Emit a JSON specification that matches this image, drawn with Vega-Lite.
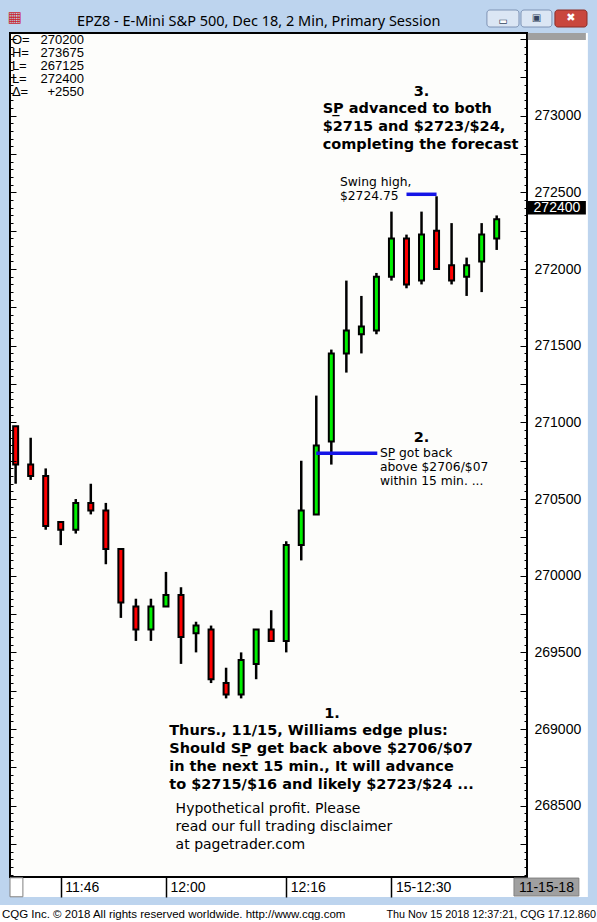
{
  "$schema": "https://vega.github.io/schema/vega-lite/v6.json",
  "width": 517,
  "height": 844,
  "autosize": {"type": "none"},
  "padding": {"left": 10, "top": 33, "right": 70, "bottom": 45},
  "background": "#bdd4ee",
  "config": {"view": {"stroke": null, "fill": null}, "font": "DejaVu Sans"},
  "title": {
    "text": "EPZ8 - E-Mini S&P 500, Dec 18, 2 Min, Primary Session",
    "anchor": "start", "frame": "group", "dx": 67, "offset": -31,
    "baseline": "alphabetic", "font": "Noto Sans", "fontSize": 14.5,
    "fontWeight": "normal", "color": "#000000"
  },
  "datasets": {
    "candles": [
      {"t": "2018-11-15T11:40:00", "o": 270975, "h": 270975, "l": 270600, "c": 270725},
      {"t": "2018-11-15T11:42:00", "o": 270725, "h": 270900, "l": 270625, "c": 270650},
      {"t": "2018-11-15T11:44:00", "o": 270650, "h": 270700, "l": 270300, "c": 270325},
      {"t": "2018-11-15T11:46:00", "o": 270350, "h": 270350, "l": 270200, "c": 270300},
      {"t": "2018-11-15T11:48:00", "o": 270300, "h": 270500, "l": 270275, "c": 270475},
      {"t": "2018-11-15T11:50:00", "o": 270475, "h": 270600, "l": 270400, "c": 270425},
      {"t": "2018-11-15T11:52:00", "o": 270425, "h": 270475, "l": 270075, "c": 270175},
      {"t": "2018-11-15T11:54:00", "o": 270175, "h": 270175, "l": 269725, "c": 269825},
      {"t": "2018-11-15T11:56:00", "o": 269800, "h": 269850, "l": 269575, "c": 269650},
      {"t": "2018-11-15T11:58:00", "o": 269650, "h": 269850, "l": 269575, "c": 269800},
      {"t": "2018-11-15T12:00:00", "o": 269800, "h": 270025, "l": 269800, "c": 269875},
      {"t": "2018-11-15T12:02:00", "o": 269875, "h": 269925, "l": 269425, "c": 269600},
      {"t": "2018-11-15T12:04:00", "o": 269625, "h": 269700, "l": 269500, "c": 269675},
      {"t": "2018-11-15T12:06:00", "o": 269650, "h": 269675, "l": 269300, "c": 269325},
      {"t": "2018-11-15T12:08:00", "o": 269300, "h": 269400, "l": 269200, "c": 269225},
      {"t": "2018-11-15T12:10:00", "o": 269225, "h": 269500, "l": 269200, "c": 269450},
      {"t": "2018-11-15T12:12:00", "o": 269425, "h": 269650, "l": 269325, "c": 269650},
      {"t": "2018-11-15T12:14:00", "o": 269650, "h": 269775, "l": 269575, "c": 269575},
      {"t": "2018-11-15T12:16:00", "o": 269575, "h": 270225, "l": 269500, "c": 270200},
      {"t": "2018-11-15T12:18:00", "o": 270200, "h": 270750, "l": 270100, "c": 270425},
      {"t": "2018-11-15T12:20:00", "o": 270400, "h": 271175, "l": 270400, "c": 270850},
      {"t": "2018-11-15T12:22:00", "o": 270875, "h": 271475, "l": 270725, "c": 271450},
      {"t": "2018-11-15T12:24:00", "o": 271450, "h": 271925, "l": 271325, "c": 271600},
      {"t": "2018-11-15T12:26:00", "o": 271575, "h": 271825, "l": 271450, "c": 271625},
      {"t": "2018-11-15T12:28:00", "o": 271600, "h": 271975, "l": 271575, "c": 271950},
      {"t": "2018-11-15T12:30:00", "o": 271950, "h": 272375, "l": 271925, "c": 272200},
      {"t": "2018-11-15T12:32:00", "o": 272200, "h": 272225, "l": 271875, "c": 271900},
      {"t": "2018-11-15T12:34:00", "o": 271925, "h": 272375, "l": 271900, "c": 272225},
      {"t": "2018-11-15T12:36:00", "o": 272250, "h": 272475, "l": 272000, "c": 272000},
      {"t": "2018-11-15T12:38:00", "o": 272025, "h": 272300, "l": 271900, "c": 271925},
      {"t": "2018-11-15T12:40:00", "o": 271950, "h": 272075, "l": 271825, "c": 272025},
      {"t": "2018-11-15T12:42:00", "o": 272050, "h": 272300, "l": 271850, "c": 272225},
      {"t": "2018-11-15T12:44:00", "o": 272200, "h": 272350, "l": 272125, "c": 272325}
    ]
  },
  "resolve": {"axis": {"x": "independent", "y": "independent"}},
  "layer": [
    {
      "data": {"values": [{}]},
      "mark": {"type": "rect", "fill": "#ffffff"},
      "encoding": {
        "x": {"datum": {"year": 2018, "month": 11, "date": 15, "hours": 11, "minutes": 39, "seconds": 15}, "type": "temporal", "axis": null},
        "x2": {"datum": {"year": 2018, "month": 11, "date": 15, "hours": 12, "minutes": 56, "seconds": 8}},
        "y": {"datum": 273540, "type": "quantitative", "axis": null},
        "y2": {"datum": 267904}
      }
    },
    {
      "data": {"values": [{}]},
      "mark": {"type": "rect", "fill": "#ffffff"},
      "encoding": {
        "x": {"datum": {"year": 2018, "month": 11, "date": 15, "hours": 11, "minutes": 37, "seconds": 54}, "type": "temporal", "axis": null},
        "x2": {"datum": {"year": 2018, "month": 11, "date": 15, "hours": 12, "minutes": 57, "seconds": 20}},
        "y": {"datum": 267852, "type": "quantitative", "axis": null},
        "y2": {"datum": 267742}
      }
    },
    {
      "data": {"values": [{}]},
      "mark": {"type": "rect", "fill": "#fdfdfb", "stroke": "#000000", "strokeWidth": 2},
      "encoding": {
        "x": {"datum": {"year": 2018, "month": 11, "date": 15, "hours": 11, "minutes": 39, "seconds": 15}, "type": "temporal", "axis": null},
        "x2": {"datum": {"year": 2018, "month": 11, "date": 15, "hours": 12, "minutes": 48, "seconds": 2}},
        "y": {"datum": 273540, "type": "quantitative", "axis": null},
        "y2": {"datum": 268035}
      }
    },
    {
      "data": {"values": [{}]},
      "mark": {"type": "rect", "fill": "#ffffff", "stroke": "#808080", "strokeWidth": 1},
      "encoding": {
        "x": {"datum": {"year": 2018, "month": 11, "date": 15, "hours": 11, "minutes": 39, "seconds": 15}, "type": "temporal", "axis": null},
        "x2": {"datum": {"year": 2018, "month": 11, "date": 15, "hours": 11, "minutes": 40, "seconds": 58}},
        "y": {"datum": 268030, "type": "quantitative", "axis": null},
        "y2": {"datum": 267906}
      }
    },
    {
      "data": {"values": [{}]},
      "mark": {"type": "rect", "fill": "#a0a0a0", "stroke": "#808080", "strokeWidth": 1},
      "encoding": {
        "x": {"datum": {"year": 2018, "month": 11, "date": 15, "hours": 12, "minutes": 46, "seconds": 18}, "type": "temporal", "axis": null},
        "x2": {"datum": {"year": 2018, "month": 11, "date": 15, "hours": 12, "minutes": 54, "seconds": 56}},
        "y": {"datum": 268028, "type": "quantitative", "axis": null},
        "y2": {"datum": 267911}
      }
    },
    {
      "data": {"values": [{}]},
      "mark": {"type": "text", "text": "11-15-18", "font": "Liberation Sans", "fontSize": 14, "align": "center", "baseline": "alphabetic", "color": "#000000"},
      "encoding": {
        "x": {"datum": {"year": 2018, "month": 11, "date": 15, "hours": 12, "minutes": 50, "seconds": 37}, "type": "temporal", "axis": null},
        "y": {"datum": 267935, "type": "quantitative", "axis": null}
      }
    },
    {
      "data": {"values": [{}]},
      "mark": {"type": "rect", "fill": "#a0a0a0"},
      "encoding": {
        "x": {"datum": {"year": 2018, "month": 11, "date": 15, "hours": 12, "minutes": 48, "seconds": 9}, "type": "temporal", "axis": null},
        "x2": {"datum": {"year": 2018, "month": 11, "date": 15, "hours": 12, "minutes": 55, "seconds": 52}},
        "y": {"datum": 273540, "type": "quantitative", "axis": null},
        "y2": {"datum": 273494}
      }
    },
    {
      "data": {"values": [{}]},
      "mark": {"type": "rect", "fill": "#000000"},
      "encoding": {
        "x": {"datum": {"year": 2018, "month": 11, "date": 15, "hours": 12, "minutes": 48, "seconds": 9}, "type": "temporal", "axis": null},
        "x2": {"datum": {"year": 2018, "month": 11, "date": 15, "hours": 12, "minutes": 55, "seconds": 52}},
        "y": {"datum": 272444, "type": "quantitative", "axis": null},
        "y2": {"datum": 272356}
      }
    },
    {
      "data": {"values": [{}]},
      "mark": {"type": "text", "text": "272400", "font": "Liberation Sans", "fontSize": 14, "align": "center", "baseline": "middle", "color": "#ffffff"},
      "encoding": {
        "x": {"datum": {"year": 2018, "month": 11, "date": 15, "hours": 12, "minutes": 52, "seconds": 1}, "type": "temporal", "axis": null},
        "y": {"datum": 272400, "type": "quantitative", "axis": null}
      }
    },
    {
      "data": {"values": [{}]},
      "mark": {"type": "text", "text": "▦", "fontSize": 15, "align": "center", "baseline": "middle", "fill": "#c8262c"},
      "encoding": {
        "x": {"datum": {"year": 2018, "month": 11, "date": 15, "hours": 11, "minutes": 39, "seconds": 54}, "type": "temporal", "axis": null},
        "y": {"datum": 273644, "type": "quantitative", "axis": null}
      }
    },
    {
      "data": {"values": [{}]},
      "mark": {"type": "rect", "fill": "#dbe6f4", "stroke": "#7f94b5", "cornerRadius": 3},
      "encoding": {
        "x": {"datum": {"year": 2018, "month": 11, "date": 15, "hours": 12, "minutes": 42, "seconds": 42}, "type": "temporal", "axis": null},
        "x2": {"datum": {"year": 2018, "month": 11, "date": 15, "hours": 12, "minutes": 46, "seconds": 58}},
        "y": {"datum": 273690, "type": "quantitative", "axis": null},
        "y2": {"datum": 273579}
      }
    },
    {
      "data": {"values": [{}]},
      "mark": {"type": "rect", "fill": "#dbe6f4", "stroke": "#7f94b5", "cornerRadius": 3},
      "encoding": {
        "x": {"datum": {"year": 2018, "month": 11, "date": 15, "hours": 12, "minutes": 47, "seconds": 14}, "type": "temporal", "axis": null},
        "x2": {"datum": {"year": 2018, "month": 11, "date": 15, "hours": 12, "minutes": 51, "seconds": 21}},
        "y": {"datum": 273690, "type": "quantitative", "axis": null},
        "y2": {"datum": 273579}
      }
    },
    {
      "data": {"values": [{}]},
      "mark": {"type": "rect", "fill": "#c9473d", "stroke": "#8a2e28", "cornerRadius": 3},
      "encoding": {
        "x": {"datum": {"year": 2018, "month": 11, "date": 15, "hours": 12, "minutes": 51, "seconds": 45}, "type": "temporal", "axis": null},
        "x2": {"datum": {"year": 2018, "month": 11, "date": 15, "hours": 12, "minutes": 56, "seconds": 1}},
        "y": {"datum": 273690, "type": "quantitative", "axis": null},
        "y2": {"datum": 273579}
      }
    },
    {
      "data": {"values": [{}]},
      "mark": {"type": "text", "text": "▬", "fontSize": 9, "align": "center", "baseline": "middle", "fill": "#ffffff", "stroke": "#33445e", "strokeWidth": 0.6},
      "encoding": {
        "x": {"datum": {"year": 2018, "month": 11, "date": 15, "hours": 12, "minutes": 44, "seconds": 50}, "type": "temporal", "axis": null},
        "y": {"datum": 273618, "type": "quantitative", "axis": null}
      }
    },
    {
      "data": {"values": [{}]},
      "mark": {"type": "text", "text": "▣", "fontSize": 10, "align": "center", "baseline": "middle", "fill": "#33445e"},
      "encoding": {
        "x": {"datum": {"year": 2018, "month": 11, "date": 15, "hours": 12, "minutes": 49, "seconds": 17}, "type": "temporal", "axis": null},
        "y": {"datum": 273638, "type": "quantitative", "axis": null}
      }
    },
    {
      "data": {"values": [{}]},
      "mark": {"type": "text", "text": "✖", "fontSize": 11, "align": "center", "baseline": "middle", "fill": "#ffffff"},
      "encoding": {
        "x": {"datum": {"year": 2018, "month": 11, "date": 15, "hours": 12, "minutes": 53, "seconds": 53}, "type": "temporal", "axis": null},
        "y": {"datum": 273638, "type": "quantitative", "axis": null}
      }
    },
    {
      "data": {"name": "candles"},
      "mark": {"type": "rule", "color": "#000000", "strokeWidth": 2.5},
      "encoding": {
        "x": {
          "field": "t", "type": "temporal",
          "scale": {"domain": [{"year": 2018, "month": 11, "date": 15, "hours": 11, "minutes": 39, "seconds": 15}, {"year": 2018, "month": 11, "date": 15, "hours": 12, "minutes": 48, "seconds": 2}], "nice": false, "padding": 0},
          "axis": {
            "orient": "bottom", "title": null, "domain": false, "grid": false,
            "values": {"expr": "[datetime(2018,10,15,11,46,0,0), datetime(2018,10,15,12,0,0,0), datetime(2018,10,15,12,16,0,0), datetime(2018,10,15,12,30,0,0)]"},
            "format": "%H:%M",
            "labelExpr": "datum.label == '12:30' ? '15-12:30' : datum.label",
            "tickSize": 20, "tickColor": "#000000", "tickWidth": 1.5,
            "labelAlign": "left", "labelBaseline": "middle", "labelPadding": -10, "labelOffset": 4,
            "labelFont": "Liberation Sans", "labelFontSize": 14, "labelColor": "#000000",
            "labelFlush": false, "labelOverlap": false, "labelBound": false, "zindex": 1
          }
        },
        "y": {
          "field": "l", "type": "quantitative",
          "scale": {"domain": [268035, 273540], "nice": false, "zero": false, "padding": 0},
          "axis": {
            "orient": "right", "title": null, "domain": false, "grid": false,
            "values": [268050,268100,268150,268200,268250,268300,268350,268400,268450,268500,268550,268600,268650,268700,268750,268800,268850,268900,268950,269000,269050,269100,269150,269200,269250,269300,269350,269400,269450,269500,269550,269600,269650,269700,269750,269800,269850,269900,269950,270000,270050,270100,270150,270200,270250,270300,270350,270400,270450,270500,270550,270600,270650,270700,270750,270800,270850,270900,270950,271000,271050,271100,271150,271200,271250,271300,271350,271400,271450,271500,271550,271600,271650,271700,271750,271800,271850,271900,271950,272000,272050,272100,272150,272200,272250,272300,272350,272400,272450,272500,272550,272600,272650,272700,272750,272800,272850,272900,272950,273000,273050,273100,273150,273200,273250,273300,273350,273400,273450,273500],
            "format": "d",
            "labelExpr": "datum.value % 500 === 0 && datum.value < 273500 ? datum.label : ''",
            "tickSize": {"condition": {"test": "datum.value % 250 === 0", "value": -7}, "value": -3},
            "tickColor": "#000000", "tickWidth": 1,
            "labelAlign": "left", "labelBaseline": "middle", "labelPadding": 14,
            "labelFont": "Liberation Sans", "labelFontSize": 14, "labelColor": "#000000",
            "labelFlush": false, "labelOverlap": false, "labelBound": false, "zindex": 1
          }
        },
        "y2": {"field": "h"}
      }
    },
    {
      "data": {"name": "candles"},
      "mark": {"type": "bar", "width": 5, "stroke": "#000000", "strokeWidth": 2},
      "encoding": {
        "x": {"field": "t", "type": "temporal", "axis": null},
        "y": {
          "field": "o", "type": "quantitative",
          "axis": {
            "orient": "left", "title": null, "domain": false, "grid": false, "labels": false,
            "values": [268050,268100,268150,268200,268250,268300,268350,268400,268450,268500,268550,268600,268650,268700,268750,268800,268850,268900,268950,269000,269050,269100,269150,269200,269250,269300,269350,269400,269450,269500,269550,269600,269650,269700,269750,269800,269850,269900,269950,270000,270050,270100,270150,270200,270250,270300,270350,270400,270450,270500,270550,270600,270650,270700,270750,270800,270850,270900,270950,271000,271050,271100,271150,271200,271250,271300,271350,271400,271450,271500,271550,271600,271650,271700,271750,271800,271850,271900,271950,272000,272050,272100,272150,272200,272250,272300,272350,272400,272450,272500,272550,272600,272650,272700,272750,272800,272850,272900,272950,273000,273050,273100,273150,273200,273250,273300,273350,273400,273450,273500],
            "tickSize": {"condition": {"test": "datum.value % 250 === 0", "value": -6}, "value": -3},
            "tickColor": "#000000", "tickWidth": 1, "zindex": 1
          }
        },
        "y2": {"field": "c"},
        "fill": {"condition": {"test": "datum.c >= datum.o", "value": "#00f000"}, "value": "#ff0000"}
      }
    },
    {
      "data": {"values": [{}]},
      "mark": {"type": "rule", "color": "#1414e6", "strokeWidth": 3.5},
      "encoding": {
        "x": {"datum": {"year": 2018, "month": 11, "date": 15, "hours": 12, "minutes": 32, "seconds": 0}, "type": "temporal", "axis": null},
        "x2": {"datum": {"year": 2018, "month": 11, "date": 15, "hours": 12, "minutes": 36, "seconds": 0}},
        "y": {"datum": 272488, "type": "quantitative", "axis": null}
      }
    },
    {
      "data": {"values": [{}]},
      "mark": {"type": "rule", "color": "#1414e6", "strokeWidth": 3.5},
      "encoding": {
        "x": {"datum": {"year": 2018, "month": 11, "date": 15, "hours": 12, "minutes": 20, "seconds": 0}, "type": "temporal", "axis": null},
        "x2": {"datum": {"year": 2018, "month": 11, "date": 15, "hours": 12, "minutes": 28, "seconds": 7}},
        "y": {"datum": 270799, "type": "quantitative", "axis": null}
      }
    },
    {
      "data": {"values": [{}]},
      "mark": {"type": "text", "text": "3.", "font": "DejaVu Sans", "fontWeight": "bold", "fontSize": 14.5, "align": "center", "baseline": "alphabetic", "color": "#000000"},
      "encoding": {
        "x": {"datum": {"year": 2018, "month": 11, "date": 15, "hours": 12, "minutes": 34, "seconds": 0}, "type": "temporal", "axis": null},
        "y": {"datum": 273129, "type": "quantitative", "axis": null}
      }
    },
    {
      "data": {"values": [{}]},
      "mark": {"type": "text", "text": ["SP\u0332 advanced to both", "$2715 and $2723/$24,", "completing the forecast"], "lineHeight": 18, "font": "DejaVu Sans", "fontWeight": "bold", "fontSize": 14.5, "align": "left", "baseline": "alphabetic", "color": "#000000"},
      "encoding": {
        "x": {"datum": {"year": 2018, "month": 11, "date": 15, "hours": 12, "minutes": 20, "seconds": 51}, "type": "temporal", "axis": null},
        "y": {"datum": 273020, "type": "quantitative", "axis": null}
      }
    },
    {
      "data": {"values": [{}]},
      "mark": {"type": "text", "text": ["Swing high,", "$2724.75"], "lineHeight": 14, "font": "DejaVu Sans", "fontSize": 12.3, "align": "left", "baseline": "alphabetic", "color": "#000000"},
      "encoding": {
        "x": {"datum": {"year": 2018, "month": 11, "date": 15, "hours": 12, "minutes": 23, "seconds": 9}, "type": "temporal", "axis": null},
        "y": {"datum": 272539, "type": "quantitative", "axis": null}
      }
    },
    {
      "data": {"values": [{}]},
      "mark": {"type": "text", "text": "2.", "font": "DejaVu Sans", "fontWeight": "bold", "fontSize": 14.5, "align": "center", "baseline": "alphabetic", "color": "#000000"},
      "encoding": {
        "x": {"datum": {"year": 2018, "month": 11, "date": 15, "hours": 12, "minutes": 34, "seconds": 0}, "type": "temporal", "axis": null},
        "y": {"datum": 270872, "type": "quantitative", "axis": null}
      }
    },
    {
      "data": {"values": [{}]},
      "mark": {"type": "text", "text": ["SP\u0332 got back", "above $2706/$07", "within 15 min. ..."], "lineHeight": 14, "font": "DejaVu Sans", "fontSize": 12.3, "align": "left", "baseline": "alphabetic", "color": "#000000"},
      "encoding": {
        "x": {"datum": {"year": 2018, "month": 11, "date": 15, "hours": 12, "minutes": 28, "seconds": 28}, "type": "temporal", "axis": null},
        "y": {"datum": 270774, "type": "quantitative", "axis": null}
      }
    },
    {
      "data": {"values": [{}]},
      "mark": {"type": "text", "text": "1.", "font": "DejaVu Sans", "fontWeight": "bold", "fontSize": 14.5, "align": "center", "baseline": "alphabetic", "color": "#000000"},
      "encoding": {
        "x": {"datum": {"year": 2018, "month": 11, "date": 15, "hours": 12, "minutes": 22, "seconds": 5}, "type": "temporal", "axis": null},
        "y": {"datum": 269072, "type": "quantitative", "axis": null}
      }
    },
    {
      "data": {"values": [{}]},
      "mark": {"type": "text", "text": ["Thurs., 11/15, Williams edge plus:", "Should SP\u0332 get back above $2706/$07", "in the next 15 min.,  It will advance", "to $2715/$16 and likely $2723/$24 ..."], "lineHeight": 18, "font": "DejaVu Sans", "fontWeight": "bold", "fontSize": 14.5, "align": "left", "baseline": "alphabetic", "color": "#000000"},
      "encoding": {
        "x": {"datum": {"year": 2018, "month": 11, "date": 15, "hours": 12, "minutes": 0, "seconds": 26}, "type": "temporal", "axis": null},
        "y": {"datum": 268961, "type": "quantitative", "axis": null}
      }
    },
    {
      "data": {"values": [{}]},
      "mark": {"type": "text", "text": ["Hypothetical profit. Please", "read our full trading disclaimer", "at pagetrader.com"], "lineHeight": 18, "font": "DejaVu Sans", "fontSize": 14, "align": "left", "baseline": "alphabetic", "color": "#000000"},
      "encoding": {
        "x": {"datum": {"year": 2018, "month": 11, "date": 15, "hours": 12, "minutes": 1, "seconds": 17}, "type": "temporal", "axis": null},
        "y": {"datum": 268452, "type": "quantitative", "axis": null}
      }
    },
    {
      "data": {"values": [{}]},
      "mark": {"type": "text", "text": ["O=", "H=", "L=", "L=", "Δ="], "lineHeight": 13, "font": "Liberation Sans", "fontSize": 13, "align": "left", "baseline": "alphabetic", "color": "#000000"},
      "encoding": {
        "x": {"datum": {"year": 2018, "month": 11, "date": 15, "hours": 11, "minutes": 39, "seconds": 30}, "type": "temporal", "axis": null},
        "y": {"datum": 273470, "type": "quantitative", "axis": null}
      }
    },
    {
      "data": {"values": [{}]},
      "mark": {"type": "text", "text": ["270200", "273675", "267125", "272400", "+2550"], "lineHeight": 13, "font": "Liberation Sans", "fontSize": 13, "align": "right", "baseline": "alphabetic", "color": "#000000"},
      "encoding": {
        "x": {"datum": {"year": 2018, "month": 11, "date": 15, "hours": 11, "minutes": 49, "seconds": 5}, "type": "temporal", "axis": null},
        "y": {"datum": 273470, "type": "quantitative", "axis": null}
      }
    },
    {
      "data": {"values": [{}]},
      "mark": {"type": "text", "text": "CQG Inc. © 2018 All rights reserved worldwide. http://www.cqg.com", "font": "Liberation Sans", "fontSize": 11.5, "align": "left", "baseline": "alphabetic", "color": "#000000"},
      "encoding": {
        "x": {"datum": {"year": 2018, "month": 11, "date": 15, "hours": 11, "minutes": 38, "seconds": 11}, "type": "temporal", "axis": null},
        "y": {"datum": 267768, "type": "quantitative", "axis": null}
      }
    },
    {
      "data": {"values": [{}]},
      "mark": {"type": "text", "text": "Thu Nov 15 2018 12:37:21, CQG 17.12.860", "font": "Liberation Sans", "fontSize": 10.8, "align": "right", "baseline": "alphabetic", "color": "#000000"},
      "encoding": {
        "x": {"datum": {"year": 2018, "month": 11, "date": 15, "hours": 12, "minutes": 57, "seconds": 12}, "type": "temporal", "axis": null},
        "y": {"datum": 267768, "type": "quantitative", "axis": null}
      }
    }
  ]
}
